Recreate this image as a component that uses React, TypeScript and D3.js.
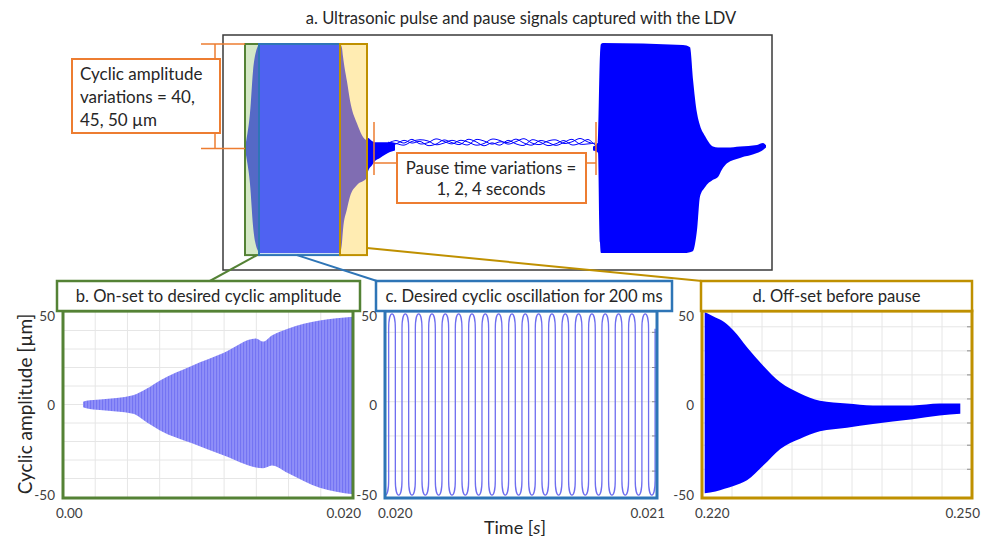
import * as d3 from 'd3';

const FONT = "Lato, 'Open Sans', sans-serif";
const SIGNAL = '#0000ff';
const ORANGE = '#ed7d31';
const GREEN = '#548235';
const STEEL = '#2e75b6';
const GOLD = '#bf9000';

// a. whole LDV trace: position along the trace (a.u.) and envelope amplitude (µm)
const burst1Pos = [20, 22, 24, 27, 30, 34, 37, 117, 119, 120, 124, 127, 134, 144, 145, 149, 152, 157, 167, 172];
const burst1Upper = [0, 1, 6, 17, 37, 48, 50, 50, 48, 44, 32, 23, 12, 4, 5, 3.6, 3, 3, 3, 2.5];
const burst1Lower = [0, -1, -6, -17, -37, -48, -50, -50, -45, -39, -29, -23, -17.5, -14, -11, -8, -6, -4.5, -1.7, -1];

const burst2Pos = [370, 375, 377, 378, 380, 460, 467, 470, 474, 477, 482, 490, 495, 499, 504, 517, 534, 540, 543];
const burst2Upper = [1, 3, 45, 50, 50.5, 49.5, 48.5, 33, 17, 11, 6, 1, 0.5, 0.5, 0.5, 1, 1.7, 2.6, 1.5];
const burst2Lower = [-1, -2, -45, -50, -50, -50, -49.6, -49, -39, -23, -18.5, -15, -13.6, -10, -7, -4.5, -2.2, -0.7, 0.5];

const pausePos = [165, 173, 181, 189, 197, 205, 213, 221, 229, 237, 245, 253, 261, 269, 277, 285, 293, 301, 309, 317, 325, 333, 341, 349, 357, 365, 372];
const pauseNoiseA = [2.5, 3.8, 2.6, 4.4, 2.2, 2.8, 4.6, 3.4, 2.2, 3.9, 3.1, 1.6, 2.4, 4.5, 3.8, 2.1, 3.3, 4.7, 2.6, 1.9, 3.6, 4.1, 2.4, 3.2, 4.8, 3.1, 2.2];
const pauseNoiseB = [1.5, 2.2, 3.9, 2.6, 3.4, 1.4, 2.1, 4.1, 2.8, 1.9, 4.4, 3.2, 1.3, 2.7, 1.6, 3.9, 2.2, 1.5, 4.2, 3.1, 1.4, 2.3, 3.8, 1.7, 2.5, 4.3, 1.6];
const pauseNoiseC = [3, 2.4, 1.6, 3.4, 4.2, 3.6, 1.8, 2.6, 3.9, 2.7, 1.7, 4.3, 3.6, 2.1, 3.2, 2.9, 4.5, 2.6, 1.6, 3.8, 2.9, 1.5, 2.9, 4.4, 2.1, 2.2, 2.6];

// phases marked on the trace
const onsetStart = 22;
const desiredStart = 36;
const offsetStart = 117;
const offsetEnd = 144;
const pauseStart = 151;
const pauseEnd = 372;

// b. on-set envelope
const bTime = [0.00138, 0.0016, 0.00255, 0.00483, 0.00579, 0.00669, 0.0089, 0.0111, 0.0133, 0.0138, 0.0144, 0.0155, 0.0177, 0.0200];
const bUpper = [1.5, 2, 2.7, 5, 8.6, 13, 21, 28, 35.7, 34, 37.3, 41, 45.4, 47.5];
const bLower = [-1.5, -2, -3, -5, -9.7, -14, -21, -27.6, -34, -34.5, -33, -37, -45, -48.5];

// c. steady oscillation: extrema times (µs after 0.020 s)
const cPeakUs = [26, 75, 124, 173, 222, 271, 320, 369, 418, 467, 516, 565, 614, 663, 712, 761, 810, 859, 908, 957];
const cTroughUs = [1, 50, 99, 148, 197, 246, 295, 344, 393, 442, 491, 540, 589, 638, 687, 736, 785, 834, 883, 932, 981];
const cAmplitude = 49;
const cShoulder = 41; // where the flanks of each cycle turn into the rounded crest

// d. off-set envelope
const dTime = [0.2203, 0.2215, 0.2225, 0.2235, 0.2250, 0.2268, 0.2287, 0.2309, 0.2331, 0.2361, 0.2390, 0.2434, 0.2464, 0.2487];
const dUpper = [50, 47, 44.5, 40, 31, 21, 12, 6, 2, 0.5, -0.5, -0.5, 0.5, 0.5];
const dLower = [-48, -47, -45.5, -44, -41, -33, -24, -18.5, -14.5, -12.5, -10.5, -8, -6, -5];

const yTickLabels = ['50', '0', '-50'];
const yTickValues = [50, 0, -50];
const bGridY = [40, 30, 20, 10, 0, -10, -20, -30, -40];
const cGridY = [39, 20, 1.5, -17, -36];
const dGridY = [42, 29, 16, 3, -10, -22, -35];

function envelope(pos: number[], up: number[], lo: number[], x: any, y: any) {
  return d3.area<number>()
    .x((d) => x(d))
    .y0((_, i) => y(lo[i]))
    .y1((_, i) => y(up[i]))
    .curve(d3.curveMonotoneX)(pos) || '';
}

export default function App() {
  const xTop = d3.scaleLinear().domain([0, 550]).range([223, 773]);
  const yTop = d3.scaleLinear().domain([-50, 50]).range([253, 44]);
  const yB = d3.scaleLinear().domain([-50, 50]).range([497, 312]);

  const noiseLine = d3.line<number>()
    .x((d) => xTop(d))
    .curve(d3.curveCatmullRom);

  const panels = [
    { id: 'b', title: 'b. On-set to desired cyclic amplitude', color: GREEN, box: [57, 360], frame: [63, 353], domain: [0, 0.02], labels: ['0.00', '0.020'], vDiv: 9, gridY: bGridY },
    { id: 'c', title: 'c. Desired cyclic oscillation for 200 ms', color: STEEL, box: [376, 672], frame: [385, 657], domain: [0.02, 0.021], labels: ['0.020', '0.021'], vDiv: 0, gridY: cGridY },
    { id: 'd', title: 'd. Off-set before pause', color: GOLD, box: [701, 972], frame: [702, 972], domain: [0.22, 0.25], labels: ['0.220', '0.250'], vDiv: 9, gridY: dGridY },
  ];
  const scales: Record<string, any> = {};
  panels.forEach((p) => { scales[p.id] = d3.scaleLinear().domain(p.domain).range(p.frame); });

  // c: ordered extrema, each drawn as a rounded crest joined by steep flanks
  const cExtrema = [
    ...cPeakUs.map((t) => ({ t, v: cAmplitude })),
    ...cTroughUs.map((t) => ({ t, v: -cAmplitude })),
  ].sort((a, b) => a.t - b.t);
  const cx = (us: number) => scales.c(0.02 + us * 1e-6);
  const cPath = d3.path();
  cExtrema.forEach((e, i) => {
    const prev = cExtrema[i - 1];
    const next = cExtrema[i + 1];
    const half = next ? (next.t - e.t) / 2 : (e.t - prev.t) / 2;
    const left = prev ? (prev.t + e.t) / 2 : e.t - half;
    const right = next ? (e.t + next.t) / 2 : e.t + half;
    const s = Math.sign(e.v);
    const shoulder = yB(s * cShoulder);
    const ctrl = yB(s * (cShoulder + (cAmplitude - cShoulder) / 0.75));
    if (i === 0) cPath.moveTo(cx(left), yB(-s * cShoulder));
    cPath.lineTo(cx(left), shoulder);
    cPath.bezierCurveTo(cx(left), ctrl, cx(right), ctrl, cx(right), shoulder);
    if (!next) cPath.lineTo(cx(right), yB(-s * cShoulder));
  });

  const boxTop = yTop(50);
  const boxBot = yTop(-51);
  const mid = yTop(0);

  return (
    <svg width={988} height={538} style={{ position: 'absolute', left: 0, top: 0, background: '#fff' }} fontFamily={FONT}>
      <defs>
        <pattern id="stripes" width={3} height={10} patternUnits="userSpaceOnUse">
          <rect width={3} height={10} fill="#8f8ff8" />
          <rect width={1.1} height={10} fill="#7474f3" />
        </pattern>
        {panels.map((p) => (
          <clipPath id={`clip-${p.id}`} key={p.id}>
            <rect x={p.frame[0]} y={311} width={p.frame[1] - p.frame[0]} height={187} />
          </clipPath>
        ))}
      </defs>

      {/* a. overview trace */}
      <text x={521} y={24} textAnchor="middle" fontSize={16.5} fill="#262626">
        a. Ultrasonic pulse and pause signals captured with the LDV
      </text>
      <rect x={223} y={35} width={549} height={235} fill="#fff" stroke="#3a3a3a" strokeWidth={1.5} />

      <path d={envelope(burst1Pos, burst1Upper, burst1Lower, xTop, yTop)} fill={SIGNAL} />
      <path d={envelope(burst2Pos, burst2Upper, burst2Lower, xTop, yTop)} fill={SIGNAL} />
      {[pauseNoiseA, pauseNoiseB, pauseNoiseC].map((vals, k) => (
        <path key={k} d={noiseLine.y((_, i) => yTop(vals[i]))(pausePos) || ''} fill="none" stroke={SIGNAL} strokeWidth={1} />
      ))}

      <rect x={xTop(onsetStart)} y={boxTop} width={xTop(desiredStart) - xTop(onsetStart)} height={boxBot - boxTop}
        fill="#a9d18e" fillOpacity={0.5} stroke={GREEN} strokeWidth={2} />
      <rect x={xTop(desiredStart)} y={boxTop} width={xTop(offsetStart) - xTop(desiredStart)} height={boxBot - boxTop}
        fill="#9dc3e6" fillOpacity={0.5} stroke={STEEL} strokeWidth={2} />
      <rect x={xTop(offsetStart)} y={boxTop} width={xTop(offsetEnd) - xTop(offsetStart)} height={boxBot - boxTop}
        fill="#ffd966" fillOpacity={0.5} stroke={GOLD} strokeWidth={2} />

      {/* amplitude annotation */}
      <g stroke={ORANGE} strokeWidth={1.5} fill="none">
        <line x1={201} x2={xTop(onsetStart)} y1={boxTop} y2={boxTop} />
        <line x1={201} x2={xTop(onsetStart)} y1={mid} y2={mid} />
        <line x1={215} x2={215} y1={boxTop} y2={59} />
        <line x1={215} x2={215} y1={133} y2={mid} />
        <rect x={72} y={59} width={148} height={74} fill="#fff" strokeWidth={2} />
      </g>
      <g fontSize={17} fill="#262626">
        <text x={80} y={80}>Cyclic amplitude</text>
        <text x={80} y={103}>variations = 40,</text>
        <text x={80} y={126}>45, 50 µm</text>
      </g>

      {/* pause annotation */}
      <g stroke={ORANGE} strokeWidth={1.5} fill="none">
        <line x1={xTop(pauseStart)} x2={xTop(pauseStart)} y1={122} y2={175} />
        <line x1={xTop(pauseStart)} x2={397} y1={163} y2={163} />
        <line x1={586} x2={xTop(pauseEnd) + 1} y1={163} y2={163} />
        <line x1={xTop(pauseEnd) + 1} x2={xTop(pauseEnd) + 1} y1={122} y2={175} />
        <rect x={397} y={153} width={189} height={50} fill="#fff" strokeWidth={2} />
      </g>
      <g fontSize={16.8} fill="#262626" textAnchor="middle">
        <text x={491} y={174}>Pause time variations =</text>
        <text x={491} y={195}>1, 2, 4 seconds</text>
      </g>

      {/* connectors */}
      <line x1={xTop(onsetStart) + 12} y1={boxBot} x2={208} y2={282} stroke={GREEN} strokeWidth={2} />
      <line x1={xTop(desiredStart) + 38} y1={boxBot} x2={380} y2={282} stroke={STEEL} strokeWidth={2} />
      <line x1={xTop(offsetEnd)} y1={248} x2={702} y2={281} stroke={GOLD} strokeWidth={2} />

      {/* bottom panels */}
      {panels.map((p) => {
        const x = scales[p.id];
        const [fx0, fx1] = p.frame;
        return (
          <g key={p.id}>
            <rect x={fx0} y={311} width={fx1 - fx0} height={187} fill="#fff" />
            {d3.range(1, p.vDiv).map((i) => {
              const gx = fx0 + ((fx1 - fx0) * i) / p.vDiv;
              return <line key={`v${i}`} x1={gx} x2={gx} y1={311} y2={498} stroke="#e6e6e6" strokeWidth={1} />;
            })}
            {p.gridY.map((v) => (
              <g key={`h${v}`}>
                <line x1={fx0} x2={fx1} y1={yB(v)} y2={yB(v)} stroke="#e6e6e6" strokeWidth={1} />
                <line x1={fx1 - 5} x2={fx1} y1={yB(v)} y2={yB(v)} stroke="#8c8c8c" strokeWidth={1} />
              </g>
            ))}
            <g clipPath={`url(#clip-${p.id})`}>
              {p.id === 'b' && <path d={envelope(bTime, bUpper, bLower, x, yB)} fill="url(#stripes)" />}
              {p.id === 'c' && <path d={cPath.toString()} fill="none" stroke="#6e6ef0" strokeWidth={1.3} />}
              {p.id === 'd' && <path d={envelope(dTime, dUpper, dLower, x, yB)} fill={SIGNAL} />}
            </g>
            <rect x={fx0} y={311} width={fx1 - fx0} height={187} fill="none" stroke={p.color} strokeWidth={3} />
            <rect x={p.box[0]} y={281} width={p.box[1] - p.box[0]} height={30} fill="#fff" stroke={p.color} strokeWidth={2.5} />
            <text x={(p.box[0] + p.box[1]) / 2} y={302} textAnchor="middle" fontSize={16.6} fill="#262626">{p.title}</text>
            {yTickValues.map((v, i) => (
              <text key={v} x={fx0 - 8} y={yB(v) + [9, 5, 3][i]} textAnchor="end" fontSize={13.5} fill="#404040">{yTickLabels[i]}</text>
            ))}
            <text x={x(p.domain[0]) - 7} y={518} fontSize={13.5} fill="#404040">{p.labels[0]}</text>
            <text x={x(p.domain[1]) + 8} y={518} textAnchor="end" fontSize={13.5} fill="#404040">{p.labels[1]}</text>
          </g>
        );
      })}

      <text x={515} y={534} textAnchor="middle" fontSize={18} fill="#262626">
        Time [<tspan fontStyle="italic">s</tspan>]
      </text>
      <text transform="translate(32,404) rotate(-90)" textAnchor="middle" fontSize={19} fill="#262626">
        Cyclic amplitude [µm]
      </text>
    </svg>
  );
}
